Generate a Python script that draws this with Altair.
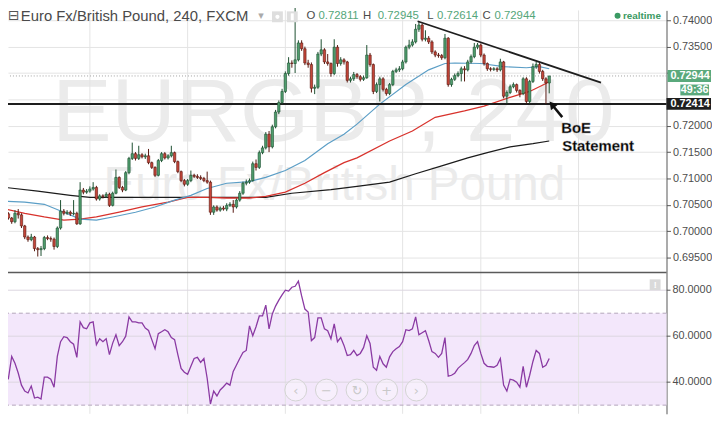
import altair as alt
import pandas as pd

# ---------------- data ----------------
FIRST_K = -26          # candle index of the first 4h candle (0 = Aug 10, 00:00)
FIRST_OPEN = 0.7036

closes = [
    .7033, .7025, .7018, .7034, .7031, .7010, .6989, .6984, .6989, .6967, .6965, .6967, .6988,
    .6986, .6985, .6971, .7006, .7038, .7034, .7036, .7033, .7034, .7014, .7078, .7074, .7076,
    .7080, .7083, .7061, .7067, .7066, .7070, .7049, .7072, .7102, .7083,
    .7078, .7111, .7138, .7147, .7138, .7145, .7141, .7143, .7130, .7121,
    .7106, .7134, .7147, .7139, .7143, .7149, .7132, .7113, .7096, .7089,
    .7096, .7106, .7104, .7102, .7100, .7096, .7093, .7036, .7046, .7040,
    .7044, .7042, .7049, .7051, .7046, .7059, .7072, .7091, .7093, .7096,
    .7128, .7121, .7149, .7158, .7184, .7160, .7198, .7226, .7244, .7265,
    .7299, .7319, .7318, .7325, .7357, .7346, .7319, .7316, .7271, .7273,
    .7336, .7344, .7321, .7318, .7299, .7349, .7318, .7325, .7321, .7286,
    .7289, .7297, .7293, .7288, .7291, .7334, .7316, .7265, .7278, .7289,
    .7269, .7261, .7278, .7303, .7306, .7308, .7321, .7349, .7353, .7359,
    .7383, .7391, .7364, .7366, .7359, .7340, .7334, .7333, .7329, .7366,
    .7278, .7288, .7295, .7299, .7308, .7306, .7321, .7331, .7349, .7353,
    .7334, .7318, .7308, .7307, .7308, .7306, .7321, .7256, .7263, .7274,
    .7278, .7267, .7261, .7289, .7246, .7284, .7312, .7316, .7303, .7289,
    .72811, .72944,
]
highs = [
    .7040, .7036, .7027, .7040, .7042, .7034, .7012, .6992, .6995, .6991, .6970, .6972, .6991,
    .6992, .6990, .6988, .7009, .7059, .7042, .7040, .7039, .7059, .7037, .7093, .7082, .7080,
    .7085, .7093, .7086, .7070, .7070, .7074, .7073, .7075, .7117, .7104,
    .7086, .7114, .7141, .7168, .7150, .7162, .7148, .7147, .7156, .7132,
    .7123, .7137, .7150, .7150, .7146, .7162, .7151, .7134, .7115, .7099,
    .7099, .7115, .7109, .7108, .7106, .7103, .7113, .7096, .7049, .7049,
    .7047, .7048, .7053, .7055, .7059, .7062, .7076, .7094, .7098, .7100,
    .7132, .7136, .7153, .7162, .7188, .7190, .7202, .7230, .7248, .7270,
    .7303, .7330, .7324, .7424, .7362, .7362, .7350, .7325, .7320, .7278,
    .7340, .7364, .7347, .7336, .7320, .7364, .7353, .7330, .7328, .7323,
    .7293, .7302, .7300, .7296, .7295, .7353, .7338, .7318, .7282, .7293,
    .7292, .7272, .7281, .7306, .7310, .7313, .7325, .7352, .7363, .7364,
    .7393, .7398, .7394, .7381, .7370, .7362, .7343, .7338, .7336, .7374,
    .7368, .7291, .7299, .7303, .7312, .7313, .7325, .7335, .7357, .7357,
    .7356, .7337, .7320, .7311, .7311, .7311, .7327, .7323, .7267, .7278,
    .7282, .7280, .7269, .7292, .7292, .7287, .7318, .7321, .7319, .7306,
    .7292, .72945,
]
lows = [
    .7030, .7022, .7014, .7015, .7024, .7006, .6985, .6980, .6981, .6962, .6952, .6953, .6964,
    .6983, .6980, .6965, .6968, .7003, .7030, .7031, .7029, .7030, .7012, .7012, .7070, .7071,
    .7073, .7077, .7058, .7058, .7062, .7063, .7046, .7047, .7070, .7080,
    .7074, .7076, .7108, .7135, .7134, .7135, .7138, .7137, .7127, .7118,
    .7103, .7104, .7131, .7136, .7136, .7140, .7129, .7110, .7093, .7085,
    .7086, .7093, .7101, .7099, .7097, .7093, .7090, .7031, .7031, .7037,
    .7037, .7039, .7038, .7046, .7035, .7043, .7056, .7069, .7087, .7090,
    .7094, .7115, .7118, .7146, .7155, .7150, .7157, .7195, .7222, .7241,
    .7262, .7295, .7310, .7300, .7322, .7342, .7315, .7310, .7263, .7260,
    .7270, .7332, .7317, .7314, .7293, .7296, .7312, .7314, .7316, .7282,
    .7282, .7285, .7289, .7284, .7285, .7289, .7312, .7260, .7262, .7246,
    .7265, .7257, .7258, .7275, .7300, .7302, .7305, .7318, .7345, .7350,
    .7356, .7378, .7360, .7360, .7355, .7336, .7330, .7329, .7325, .7326,
    .7274, .7274, .7285, .7292, .7284, .7284, .7303, .7318, .7328, .7345,
    .7330, .7314, .7304, .7303, .7304, .7302, .7303, .7252, .7242, .7260,
    .7271, .7263, .7254, .7258, .7242, .7242, .7281, .7308, .7299, .7285,
    .72414, .72614,
]
rsi_values = [
    43.9, 41.7, 51.2, 48.2, 44.0, 38.7, 36.1, 35.3, 38.3, 33.1, 33.5, 32.7, 42.2,
    42.2, 41.3, 37.8, 51.2, 57.6, 59.8, 59.4, 57.6, 56.5, 50.8, 66.2, 63.7, 63.2,
    65.8, 66.2, 56.3, 58.9, 57.6, 58.9, 52.0, 57.0, 60.6, 55.9,
    57.6, 60.0, 68.4, 66.2, 66.2, 65.8, 65.8, 63.5, 62.5, 58.5,
    54.6, 61.1, 61.9, 62.8, 61.9, 59.4, 58.5, 52.0, 46.0, 44.3,
    43.4, 46.9, 50.3, 50.8, 48.6, 50.3, 41.7, 30.5, 36.1, 34.0,
    36.6, 38.0, 39.6, 38.7, 44.7, 47.5, 50.3, 52.9, 53.8, 64.5,
    60.2, 64.1, 68.8, 68.8, 73.5, 63.2, 69.7, 73.1, 75.7, 78.0,
    80.0, 79.6, 81.3, 81.7, 83.9, 77.5, 71.8, 70.5, 58.1, 59.4,
    68.0, 68.0, 63.2, 62.4, 58.9, 65.4, 57.6, 59.4, 56.0, 51.6,
    52.0, 53.8, 51.6, 52.5, 55.0, 60.2, 56.8, 46.5, 45.2, 51.2,
    48.0, 46.5, 51.0, 53.3, 54.5, 55.5, 57.6, 62.8, 62.4, 63.2,
    68.4, 60.6, 61.5, 62.4, 58.1, 53.3, 52.5, 50.8, 52.5, 59.4,
    42.6, 43.0, 43.9, 46.0, 47.3, 48.5, 49.9, 52.5, 55.9, 57.6,
    52.5, 48.2, 46.9, 46.7, 46.5, 47.3, 50.3, 38.7, 36.1, 41.3,
    40.9, 40.0, 37.8, 46.9, 37.8, 43.0, 49.0, 53.8, 52.5, 46.5,
    47.3, 50.3,
]

blue_k = [-26, -20, -14, -8, -3, 2, 7, 14, 20, 26, 31, 36, 42, 49, 54, 60, 66, 73, 78, 82,
          89, 97, 104, 109, 112, 120, 127, 134, 138, 141]
blue_p = [.7057, .7055, .7051, .7036, .7023, .7021, .7027, .7036, .7046, .7059, .7068, .7081,
          .7091, .7094, .7102, .7115, .7134, .7166, .7184, .7203, .7241, .7278, .7306, .7318,
          .7319, .7318, .7312, .7310, .7312, .7308]
red_k = [-26, -20, -14, -8, -3, 2, 9, 16, 24, 30, 36, 42, 49, 54, 60, 66, 72, 78, 82, 92, 99,
         106, 115, 121, 129, 135, 140, 141]
red_p = [.7042, .7034, .7027, .7021, .7023, .7027, .7036, .7046, .7055, .7064, .7064, .7063,
         .7063, .7066, .7074, .7091, .7111, .7130, .7139, .7171, .7190, .7216, .7228, .7237,
         .7254, .7265, .7280, .7284]
black_k = [-26, -16, -6, 0, 14, 30, 44, 54, 62, 74, 82, 92, 100, 108, 116, 122, 129, 136, 141]
black_p = [.7083, .7076, .7068, .7064, .7064, .7064, .7064, .7064, .7072, .7079, .7085, .7093,
           .7109, .7124, .7139, .7149, .7160, .7166, .7171]

trend_k = [100.6, 156.9]
trend_p = [0.73981, 0.72819]
arrow_k = [145.0, 142.0]
arrow_p = [0.721625, 0.723875]
arrow_head_k = [141.85]
arrow_head_p = [0.72404]
note_k = [144.7, 145.0]
note_p = [0.71956, 0.71619]
note_txt = ["BoE", "Statement"]

tick_k = [0, 30, 60, 96, 120, 150]
tick_lbl = ["10", "17", "24", "Sep", "7", "14"]
price_ticks = [0.695, 0.700, 0.705, 0.710, 0.715, 0.720, 0.725, 0.730, 0.735, 0.740]
hidden_price_labels = [0.725, 0.730]   # covered by the highlighted labels in the picture
rsi_ticks = [40, 60, 80]
rsi_band = [30, 70]
support = 0.72414
timer_txt = "49:36"

# ---------------- geometry ----------------
W, H = 666, 408
XMIN, XMAX = -23.62, 175.49
PMIN, PMAX = 0.665375, 0.741875
RMIN, RMAX = 26.24, 201.72
SEP_PRICE = 0.6921875
FONT = "Liberation Sans"

n = len(closes)
assert len(highs) == n and len(lows) == n, (len(highs), len(lows), n)
ks = list(range(FIRST_K, FIRST_K + n))
opens = [FIRST_OPEN] + closes[:-1]
candles = pd.DataFrame({"k": ks, "o": opens, "c": closes, "h": highs, "l": lows})
rsi_df = pd.DataFrame({"k": list(range(FIRST_K, FIRST_K + len(rsi_values))), "v": rsi_values})
last = closes[-1]

xs = alt.Scale(domain=[XMIN, XMAX], nice=False, zero=False)
ps = alt.Scale(domain=[PMIN, PMAX], nice=False, zero=False)
rs = alt.Scale(domain=[RMIN, RMAX], nice=False, zero=False)

GREEN, GREEN_D = "#4f9d6d", "#1c4f30"
RED, RED_D = "#c5463a", "#561810"
LBL = "#4d4d4d"
GRID = "#e4e4e4"
HDR_GREEN = "#55a67a"
dummy = pd.DataFrame({"d": [0]})


def X(field="k:Q"):
    return alt.X(field, scale=xs, axis=None)


def P(field):
    return alt.Y(field, scale=ps, axis=None)


def R(field):
    return alt.Y(field, scale=rs, axis=None)


def txt(s, x, y, **kw):
    kw.setdefault("font", FONT)
    return alt.Chart(dummy).mark_text(text=s, **kw).encode(x=alt.value(x), y=alt.value(y))


def box(x, x2, y, y2, color):
    return alt.Chart(dummy).mark_rect(color=color).encode(
        x=alt.value(x), x2=alt.value(x2), y=alt.value(y), y2=alt.value(y2))


layers = []

# watermark
layers.append(txt("EURGBP, 240", 329, 132, fontSize=90, color="#ebebeb", baseline="alphabetic"))
layers.append(txt("Euro Fx/British Pound", 330, 192, fontSize=48, color="#ebebeb", baseline="alphabetic"))

# RSI band
band_df = pd.DataFrame({"lo": [rsi_band[0]], "hi": [rsi_band[1]]})
layers.append(alt.Chart(band_df).mark_rect(color="#f3e7fb").encode(
    x=alt.value(0), x2=alt.value(W), y=R("lo:Q"), y2="hi:Q"))

# vertical grid + date axis
label_expr = " : ".join(f"datum.value == {k} ? '{l}'" for k, l in zip(tick_k, tick_lbl)) + " : ''"
vgrid = pd.DataFrame({"k": tick_k})
layers.append(alt.Chart(vgrid).mark_rule(color=GRID, strokeWidth=1).encode(
    x=alt.X("k:Q", scale=xs, axis=alt.Axis(values=tick_k, labelExpr=label_expr, grid=False,
                                            ticks=False, domainColor="#555", labelColor=LBL,
                                            labelFontSize=11, labelFont=FONT, labelPadding=3,
                                            title=None))))

# RSI grid / band borders
layers.append(alt.Chart(pd.DataFrame({"v": rsi_ticks})).mark_rule(color="#dcd6e0", strokeWidth=1)
              .encode(y=R("v:Q")))
layers.append(alt.Chart(pd.DataFrame({"v": rsi_band})).mark_rule(
    color="#b3a6bb", strokeWidth=1, strokeDash=[4, 3]).encode(y=R("v:Q")))

# price axis (with horizontal grid)
hide = " || ".join(f"datum.value == {v}" for v in hidden_price_labels)
price_label_expr = f"({hide}) ? '' : format(datum.value, '.5f')"
layers.append(alt.Chart(pd.DataFrame({"p": price_ticks})).mark_rule(opacity=0).encode(
    y=alt.Y("p:Q", scale=ps, axis=alt.Axis(orient="right", values=price_ticks,
                                           labelExpr=price_label_expr,
                                           grid=True, gridColor=GRID, tickSize=4, tickColor="#555",
                                           domainColor="#555", labelColor=LBL, labelFontSize=11,
                                           labelFont=FONT, labelPadding=2, title=None))))

# moving averages
for kk, pp, col, sw in [(black_k, black_p, "#1b1b1b", 1.2), (red_k, red_p, "#d8322c", 1.3),
                        (blue_k, blue_p, "#5b9ec6", 1.2)]:
    layers.append(alt.Chart(pd.DataFrame({"k": kk, "p": pp})).mark_line(
        color=col, strokeWidth=sw).encode(x=X(), y=P("p:Q")))

# last price dotted line and support line
layers.append(alt.Chart(pd.DataFrame({"p": [last]})).mark_rule(
    color="#a0a0a0", strokeWidth=1, strokeDash=[1, 2]).encode(y=P("p:Q")))
layers.append(alt.Chart(pd.DataFrame({"p": [support]})).mark_rule(
    color="#1e1e1e", strokeWidth=2).encode(y=P("p:Q")))

# candles
cb = alt.Chart(candles)
layers.append(cb.transform_filter("datum.c >= datum.o").mark_rule(color=GREEN_D, strokeWidth=1)
              .encode(x=X(), y=P("l:Q"), y2="h:Q"))
layers.append(cb.transform_filter("datum.c < datum.o").mark_rule(color=RED_D, strokeWidth=1)
              .encode(x=X(), y=P("l:Q"), y2="h:Q"))
layers.append(cb.transform_filter("datum.c >= datum.o").mark_bar(
    orient="vertical", size=2.4, fill=GREEN, stroke=GREEN_D, strokeWidth=0.6)
    .encode(x=X(), y=P("o:Q"), y2="c:Q"))
layers.append(cb.transform_filter("datum.c < datum.o").mark_bar(
    orient="vertical", size=2.4, fill=RED, stroke=RED_D, strokeWidth=0.6)
    .encode(x=X(), y=P("o:Q"), y2="c:Q"))

# trendline
layers.append(alt.Chart(pd.DataFrame({"k": trend_k, "p": trend_p})).mark_line(
    color="#1e1e1e", strokeWidth=1.8).encode(x=X(), y=P("p:Q")))

# RSI line
layers.append(alt.Chart(rsi_df).mark_line(color="#8a3aa3", strokeWidth=1.3).encode(
    x=X(), y=R("v:Q")))

# panel separator
layers.append(alt.Chart(pd.DataFrame({"p": [SEP_PRICE]})).mark_rule(
    color="#5a5a5a", strokeWidth=1.5).encode(y=P("p:Q")))

# arrow + annotation
layers.append(alt.Chart(pd.DataFrame({"k": arrow_k, "p": arrow_p})).mark_line(
    color="#111", strokeWidth=2.6).encode(x=X(), y=P("p:Q")))
layers.append(alt.Chart(pd.DataFrame({"k": arrow_head_k, "p": arrow_head_p})).mark_point(
    shape="triangle-up", filled=True, color="#111", size=80, angle=321, opacity=1)
    .encode(x=X(), y=P("p:Q")))
note_df = pd.DataFrame({"k": note_k, "p": note_p, "t": note_txt})
layers.append(alt.Chart(note_df).mark_text(
    align="left", font=FONT, fontSize=15, fontWeight="bold", color="#000",
    stroke="#9a9a9a", strokeWidth=0.4)
    .encode(x=X(), y=P("p:Q"), text="t:N"))

# right-axis highlighted labels
layers.append(alt.Chart(pd.DataFrame({"p": [last]})).mark_rule(color="#5aa97c", strokeWidth=12)
              .encode(x=alt.value(667), x2=alt.value(711), y=P("p:Q")))
layers.append(alt.Chart(pd.DataFrame({"p": [last]})).mark_text(
    align="left", font=FONT, fontSize=11, fontWeight="bold", color="white")
    .encode(x=alt.value(670), y=P("p:Q"), text=alt.Text("p:Q", format=".5f")))
layers.append(box(680, 709, 75, 86, "#5aa97c"))
layers.append(txt(timer_txt, 694.5, 80.5, fontSize=11, fontWeight="bold", color="white"))
layers.append(alt.Chart(pd.DataFrame({"p": [support]})).mark_rule(color="#1e1e1e", strokeWidth=12)
              .encode(x=alt.value(666), x2=alt.value(711), y=P("p:Q")))
layers.append(alt.Chart(pd.DataFrame({"p": [support]})).mark_text(
    align="left", font=FONT, fontSize=11, fontWeight="bold", color="white")
    .encode(x=alt.value(670), y=P("p:Q"), text=alt.Text("p:Q", format=".5f")))

# RSI axis labels and ticks
rt = pd.DataFrame({"v": rsi_ticks})
layers.append(alt.Chart(rt).mark_rule(color="#555").encode(
    x=alt.value(W), x2=alt.value(W + 4), y=R("v:Q")))
layers.append(alt.Chart(rt).mark_text(align="left", font=FONT, fontSize=11, color=LBL).encode(
    x=alt.value(W + 6), y=R("v:Q"), text=alt.Text("v:Q", format=".4f")))

# header
HY = 6
layers.append(txt("\u229f", 0, HY, align="left", font="DejaVu Sans", fontSize=14, color="#555"))
layers.append(txt("Euro Fx/British Pound, 240, FXCM", 13, HY, align="left", fontSize=15, color="#4a4a4a"))
layers.append(txt("\u25be", 253, HY, align="left", font="DejaVu Sans", fontSize=11, color="#aaa"))
layers.append(box(267, 278, 1, 12, "#dedede"))
layers.append(box(282, 293, 1, 12, "#dedede"))
layers.append(alt.Chart(dummy).mark_point(filled=True, color="white", size=18, opacity=1).encode(
    x=alt.value(272.5), y=alt.value(6.5)))
layers.append(box(286, 289, 3, 10, "white"))
hdr = [("O", opens[-1]), ("H", highs[-1]), ("L", lows[-1]), ("C", closes[-1])]
hx = [(302, 314), (359, 374), (424, 434), (480, 492)]
for (lab, val), (x0, x1) in zip(hdr, hx):
    layers.append(txt(lab, x0, HY, align="left", fontSize=11.5, color="#4a4a4a"))
    layers.append(txt(f"{val:.5f}", x1, HY, align="left", fontSize=11.5, color=HDR_GREEN))
layers.append(alt.Chart(dummy).mark_point(filled=True, color="#3b9a63", size=36, opacity=1).encode(
    x=alt.value(616.5), y=alt.value(5.5)))
layers.append(txt("realtime", 622, 5.5, align="left", fontSize=10, fontWeight="bold", color="#3b9a63"))

# RSI pane icon
layers.append(box(649, 660, 272, 283, "#dadada"))
layers.append(txt("!", 654.5, 277.5, fontSize=9, fontWeight="bold", color="white"))

# navigation buttons
for cx, g in zip([291, 322, 353, 383, 413], ["\u2039", "\u2212", "\u21bb", "+", "\u203a"]):
    layers.append(alt.Chart(dummy).mark_point(shape="circle", size=490, fill="white",
                                              fillOpacity=0.35, stroke="#d2d2d2",
                                              strokeWidth=1, filled=False)
                  .encode(x=alt.value(cx), y=alt.value(384)))
    layers.append(txt(g, cx, 384.5, font="DejaVu Sans", fontSize=13, color="#c9c9c9"))

chart = alt.layer(*layers).resolve_scale(y="independent").properties(
    width=W, height=H,
    autosize=alt.AutoSizeParams(type="none"),
    padding={"left": 0, "top": 0, "right": 46, "bottom": 16},
    background="white",
).configure_view(stroke=None)

chart.save("out.html", embed_options={"renderer": "svg", "actions": False})
